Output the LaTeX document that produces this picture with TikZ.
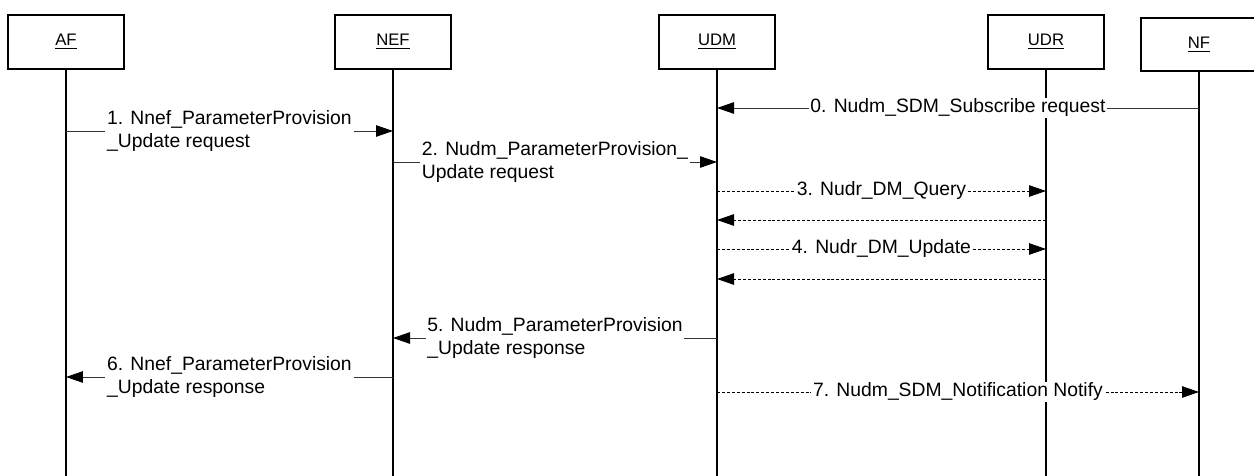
\documentclass[tikz,border=0pt]{standalone}
\usepackage{fontspec}
\setmainfont{Liberation Sans}
\usetikzlibrary{arrows.meta}

\begin{document}
\begin{tikzpicture}[x=0.02cm, y=-0.02cm, >={Triangle[length=3.4mm, width=2.3mm, color=black]},
  ent/.style={draw, line width=1pt, fill=white, minimum width=2.32cm, minimum height=1.08cm, inner sep=0pt, font=\fontsize{9.5}{11}\selectfont},
  life/.style={line width=1.1pt},
  msg/.style={->, line width=0.55pt, draw=black!80},
  ret/.style={->, line width=0.55pt, dash pattern=on 1.7pt off 1.1pt},
  lbl/.style={fill=white, align=left, inner xsep=1pt, inner ysep=0.5pt, text=black, font=\fontsize{11}{13}\selectfont}]
\useasboundingbox (0,0) rectangle (1254,476);
% participants
\node[ent] (af) at (66,42) {\underline{AF}};
\node[ent] (nef) at (393,42) {\underline{NEF}};
\node[ent] (udm) at (717,42) {\underline{UDM}};
\node[ent] (udr) at (1046,42) {\underline{UDR}};
\node[ent, minimum height=1.06cm] (nf) at (1199,44.5) {\underline{NF}};
\coordinate (bot) at (0,476);
\foreach \p in {af,nef,udm,udr,nf}
  \draw[life] (\p.south) -- (\p |- bot);
% message rows
\coordinate (r0) at (0,108);
\coordinate (r1) at (0,131);
\coordinate (r2) at (0,162);
\coordinate (r3) at (0,191);
\coordinate (r3b) at (0,220);
\coordinate (r4) at (0,249);
\coordinate (r4b) at (0,279);
\coordinate (r5) at (0,338);
\coordinate (r6) at (0,377);
\coordinate (r7) at (0,392);
\draw[msg] (nf |- r0) -- node[lbl] {0. Nudm\_SDM\_Subscribe request} (udm |- r0);
\draw[msg] (af |- r1) -- node[lbl] {1. Nnef\_ParameterProvision\\\_Update request} (nef |- r1);
\draw[msg] (nef |- r2) -- node[lbl] {2. Nudm\_ParameterProvision\_\\Update request} (udm |- r2);
\draw[ret] (udm |- r3) -- node[lbl] {3. Nudr\_DM\_Query} (udr |- r3);
\draw[ret] (udr |- r3b) -- (udm |- r3b);
\draw[ret] (udm |- r4) -- node[lbl] {4. Nudr\_DM\_Update} (udr |- r4);
\draw[ret] (udr |- r4b) -- (udm |- r4b);
\draw[msg] (udm |- r5) -- node[lbl] {5. Nudm\_ParameterProvision\\\_Update response} (nef |- r5);
\draw[msg] (nef |- r6) -- node[lbl] {6. Nnef\_ParameterProvision\\\_Update response} (af |- r6);
\draw[ret] (udm |- r7) -- node[lbl] {7. Nudm\_SDM\_Notification Notify} (nf |- r7);
\end{tikzpicture}
\end{document}
